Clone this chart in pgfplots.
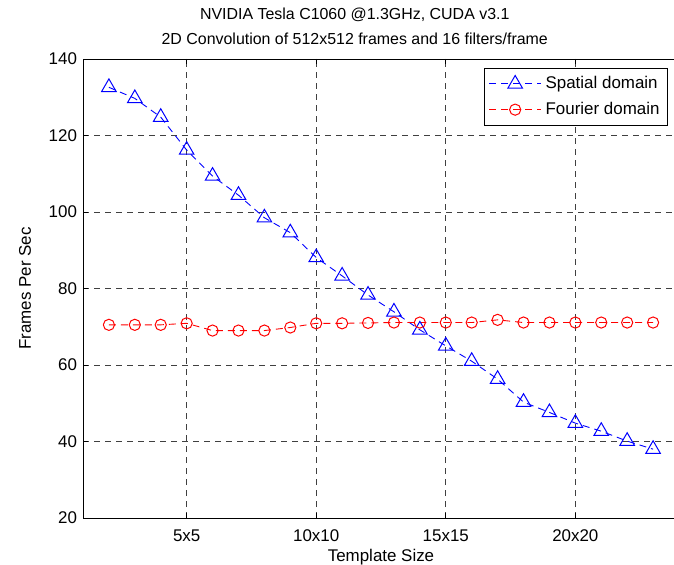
\documentclass[border=0pt]{standalone}
\usepackage{fontspec}
\setmainfont{Liberation Sans}
\usepackage{pgfplots}
\pgfplotsset{compat=1.18}
\usetikzlibrary{calc}

\begin{document}
\fontsize{8.5}{10}\selectfont
\begin{tikzpicture}
\begin{axis}[
    scale only axis,
    width=298bp, height=229.5bp,
    xmin=1, xmax=24,
    ymin=20, ymax=140,
    xtick={5,10,15,20},
    xticklabels={5x5,10x10,15x15,20x20},
    ytick={20,40,...,140},
    tick align=inside,
    major tick length=2.5bp,
    tick style={black, line width=0.4pt},
    axis line style={black, line width=0.5pt},
    grid=major,
    grid style={black!75, dash pattern=on 3bp off 2.5bp, line width=0.4pt},
    /pgf/number format/assume math mode=true,
    tick label style={font=\fontsize{8.5}{10}\selectfont},
    xticklabel style={yshift=-3bp},
    xlabel={Template Size},
    ylabel={Frames Per Sec},
    xlabel style={yshift=2bp},
    ylabel style={yshift=3bp},
    title={NVIDIA Tesla C1060 @1.3GHz, CUDA v3.1\\2D Convolution of 512x512 frames and 16 filters/frame},
    title style={align=center, at={(rel axis cs:0.456,1)}, anchor=south, yshift=-2bp, font=\fontsize{8}{12.5}\selectfont},
    legend style={at={(rel axis cs:1,1)}, anchor=north east, xshift=-5.5bp, yshift=-4.5bp,
        draw=black, line width=0.5pt, font=\fontsize{8.5}{10}\selectfont,
        row sep=1.5bp, inner xsep=2bp, inner ysep=2bp},
    legend cell align=left,
    legend image code/.code={\draw[mark repeat=2,mark phase=2,#1] plot coordinates {(0bp,0bp) (13bp,0bp) (26bp,0bp)};},
]
\coordinate (sw) at (rel axis cs:0,0);

\addplot[color=blue, line width=0.45pt, dash pattern=on 3.5bp off 2.5bp,
    mark=triangle, mark size=4.2bp, mark options={solid, line width=0.5pt}] coordinates {
    (2,132.6) (3,129.7) (4,124.8) (5,116.2) (6,109.4) (7,104.4) (8,98.5) (9,94.6)
    (10,88.1) (11,83.3) (12,78.3) (13,73.9) (14,69.2) (15,65.0) (16,61.0) (17,56.3)
    (18,50.3) (19,47.6) (20,44.8) (21,42.7) (22,40.1) (23,38.0)
};
\addlegendentry{Spatial domain}

\addplot[color=red, line width=0.45pt, dash pattern=on 3.5bp off 2.5bp,
    mark=o, mark size=2.8bp, mark options={solid, line width=0.5pt}] coordinates {
    (2,70.5) (3,70.5) (4,70.5) (5,70.9) (6,69.0) (7,69.0) (8,69.0) (9,69.8)
    (10,70.9) (11,70.9) (12,71.0) (13,71.1) (14,71.1) (15,71.1) (16,71.1) (17,71.8)
    (18,71.1) (19,71.1) (20,71.1) (21,71.1) (22,71.1) (23,71.1)
};
\addlegendentry{Fourier domain}
\end{axis}
\pgfresetboundingbox
\path[use as bounding box] ($(sw)+(-41.5bp,-23.5bp)$) rectangle ($(sw)+(295.5bp,259bp)$);
\end{tikzpicture}
\end{document}
